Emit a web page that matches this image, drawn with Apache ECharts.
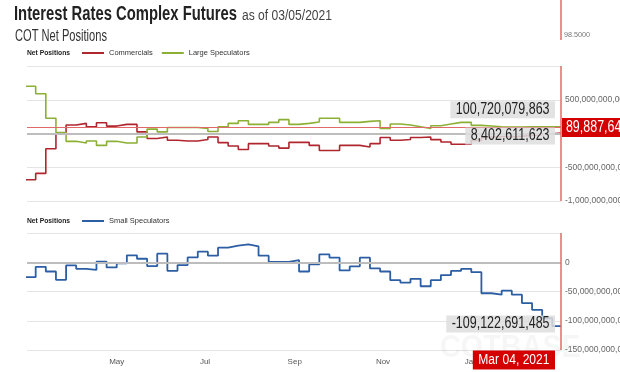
<!DOCTYPE html>
<html><head><meta charset="utf-8">
<script src="https://cdn.jsdelivr.net/npm/echarts@6/dist/echarts.min.js"></script>
<style>html,body{margin:0;padding:0;background:#fff}#c{width:620px;height:372px}</style>
</head><body><div id="c"></div>
<script>
// ---- data (values in billions) ----
const dates = ['2020-02-28','2020-03-06','2020-03-13','2020-03-20','2020-03-27','2020-04-03','2020-04-10','2020-04-17','2020-04-24','2020-05-01','2020-05-08','2020-05-15','2020-05-22','2020-05-29','2020-06-05','2020-06-12','2020-06-19','2020-06-26','2020-07-03','2020-07-10','2020-07-17','2020-07-24','2020-07-31','2020-08-07','2020-08-14','2020-08-21','2020-08-28','2020-09-04','2020-09-11','2020-09-18','2020-09-25','2020-10-02','2020-10-09','2020-10-16','2020-10-23','2020-10-30','2020-11-06','2020-11-13','2020-11-20','2020-11-27','2020-12-04','2020-12-11','2020-12-18','2020-12-25','2021-01-01','2021-01-08','2021-01-15','2021-01-22','2021-01-29','2021-02-05','2021-02-12','2021-02-19','2021-02-26','2021-03-04'];
const commercials = [-686,-591,-225,-5,125,150,100,160,110,135,135,24,-75,-51,-100,-111,-111,-90,-51,-135,-186,-236,-150,-150,-186,-216,-131,-131,-176,-251,-251,-176,-176,-201,-150,-60,-100,-90,-60,-51,-90,-126,-160,-160,-103,-57,-44,-46,-40,-30,-19,-4,8.402611623,8.402611623];
const largeSpeculators = [700,590,225,15,-116,-141,-111,-176,-116,-141,-141,-51,65,24,90,90,90,75,30,100,150,190,135,135,165,205,135,150,170,225,225,165,165,180,190,75,140,125,100,75,115,140,165,165,120,110,100,95,95,100,100,100,100.720079863,100.720079863];
const smallSpeculators = [-25.5,-7.8,-15.8,-30,-5.5,-11.2,-13,0.9,-8.9,-2,11.8,6,-6.6,14.7,-14.7,-4.9,8.3,18,11.2,25,28.4,30.7,27.3,11.2,0.8,0.8,3.8,-15.8,-3.8,13.5,7.8,-14,-7.2,7.8,-10.6,-15.8,-30.7,-34.8,-28.4,-41,-30.7,-22,-14.7,-11.2,-17,-53,-55.5,-48.6,-55.5,-69.8,-81.4,-95.7,-109.122691485,-109.122691485];
const monthTicks = ['2020-05-01','2020-07-01','2020-09-01','2020-11-01','2021-01-01'];
const monthLabels = ['May','Jul','Sep','Nov','Jan'];
const xStart = '2020-02-29';
const cursorValue = 89887641025;
const cursorDateLabel = 'Mar 04, 2021';
const priceLabel = '98.5000';

const B = 1e9;
const SANS = "'Liberation Sans',Arial,sans-serif";
const ts = s => { const [y,m,d] = s.split('-').map(Number); return Date.UTC(y, m-1, d); };
const fmt = v => Math.round(v).toLocaleString('en-US');
const mk = arr => dates.map((d,i) => [ts(d), Math.round(arr[i]*B)]);
const lastT = ts(dates[dates.length-1]);
const lastOf = arr => Math.round(arr[arr.length-1]*B);
const tickTs = monthTicks.map(ts);

const RED = '#b0262f', GREEN = '#8cb034', BLUE = '#2c5ea3', XRED = '#e06a6a';

const xBase = i => ({type: 'value', gridIndex: i, min: ts(xStart), max: lastT,
  axisLine: {show: false}, axisTick: {show: false}, splitLine: {show: false}, axisLabel: {show: false}});

const chart = echarts.init(document.getElementById('c'), null, {renderer: 'canvas'});
const option = {
  animation: false,
  legend: [
    {left: 82, top: 49, padding: 0, data: ['Commercials','Large Speculators'], icon: 'rect', itemWidth: 22, itemHeight: 2, itemGap: 9,
     textStyle: {fontFamily: SANS, fontSize: 7.5, color: '#333'}},
    {left: 82, top: 217, padding: 0, data: ['Small Speculators'], icon: 'rect', itemWidth: 22, itemHeight: 2,
     textStyle: {fontFamily: SANS, fontSize: 7.5, color: '#333'}}
  ],
  grid: [
    {left: 27, right: 59, top: 66, height: 135, outerBoundsMode: 'none'},
    {left: 27, right: 59, top: 233, height: 117, outerBoundsMode: 'none'}
  ],
  xAxis: [
    xBase(0),
    Object.assign(xBase(1), {axisLabel: {show: true, customValues: tickTs,
      formatter: v => { const i = tickTs.indexOf(v); return i >= 0 ? monthLabels[i] : ''; },
      color: '#555', fontFamily: SANS, fontSize: 8, margin: 8}})
  ],
  yAxis: [
    {type: 'value', gridIndex: 0, position: 'right', min: -1e12, max: 1e12, interval: 5e11,
     axisLine: {show: false}, axisTick: {show: false},
     axisLabel: {formatter: v => (v === 1e12 || v === 0) ? '' : fmt(v), color: '#666', fontFamily: SANS, fontSize: 8.5, margin: 4},
     splitLine: {lineStyle: {color: '#e4e4e4'}}},
    {type: 'value', gridIndex: 1, position: 'right', min: -1.5e11, max: 5e10, interval: 5e10,
     axisLine: {show: false}, axisTick: {show: false},
     axisLabel: {formatter: v => v === 5e10 ? '' : fmt(v), color: '#666', fontFamily: SANS, fontSize: 8.5, margin: 4},
     splitLine: {lineStyle: {color: '#e4e4e4'}}}
  ],
  series: [
    {name: 'Commercials', type: 'line', xAxisIndex: 0, yAxisIndex: 0, step: 'end', showSymbol: false,
     color: RED, lineStyle: {color: RED, width: 1.6}, data: mk(commercials), z: 3,
     markLine: {silent: true, symbol: 'none', data: [
       {yAxis: 0, lineStyle: {color: '#bdbdbd', width: 2, type: 'solid'}, label: {show: false}},
       {yAxis: cursorValue, lineStyle: {color: XRED, width: 1.2, type: 'solid'}, label: {show: false}},
       {xAxis: lastT, lineStyle: {color: XRED, width: 1.5, type: 'solid'}, label: {show: false}}
     ]}},
    {name: 'Large Speculators', type: 'line', xAxisIndex: 0, yAxisIndex: 0, step: 'end', showSymbol: false,
     color: GREEN, lineStyle: {color: GREEN, width: 1.6}, data: mk(largeSpeculators), z: 3},
    {name: 'Small Speculators', type: 'line', xAxisIndex: 1, yAxisIndex: 1, step: 'end', showSymbol: false,
     color: BLUE, lineStyle: {color: BLUE, width: 1.8}, data: mk(smallSpeculators), z: 3,
     markLine: {silent: true, symbol: 'none', data: [
       {yAxis: 0, lineStyle: {color: '#bdbdbd', width: 2, type: 'solid'}, label: {show: false}},
       {xAxis: lastT, lineStyle: {color: XRED, width: 1.5, type: 'solid'}, label: {show: false}}
     ]}}
  ]
};
chart.setOption(option);

// narrow (condensed) text helper: Liberation Sans squeezed horizontally
const ctx = document.createElement('canvas').getContext('2d');
const fitScale = (text, font, width) => { ctx.font = font; return width / ctx.measureText(text).width; };
const NS = 0.78;
const txt = (text, x, y, font, fill, opt) => ({type: 'text', x: x, y: y, scaleX: (opt && opt.sx) || NS, z: 100,
  style: Object.assign({text: text, font: font, fill: fill, verticalAlign: 'middle', align: 'left'}, (opt && opt.style) || {})});

const cx = chart.convertToPixel({xAxisIndex: 1}, lastT);
const yb = chart.convertToPixel({yAxisIndex: 1}, -1.5e11);
const yG = chart.convertToPixel({yAxisIndex: 0}, lastOf(largeSpeculators));
const yC = chart.convertToPixel({yAxisIndex: 0}, lastOf(commercials));
const yS = chart.convertToPixel({yAxisIndex: 1}, lastOf(smallSpeculators));
const yCur = chart.convertToPixel({yAxisIndex: 0}, cursorValue);

const titleMain = 'Interest Rates Complex Futures', titleSub = 'as of 03/05/2021', sub2 = 'COT Net Positions';
const fT = 'bold 20px ' + SANS, fS = '14px ' + SANS, fC = '16px ' + SANS;
const box = (bg) => ({backgroundColor: bg, padding: [1, 7, 0, 7], align: 'right'});
const lbl = '16px ' + SANS;

chart.setOption({graphic: [
  txt(titleMain, 14, 14.5, fT, '#222', {sx: fitScale(titleMain, fT, 223)}),
  txt(titleSub, 242, 16, fS, '#444', {sx: fitScale(titleSub, fS, 90)}),
  txt(sub2, 15, 37, fC, '#333', {sx: fitScale(sub2, fC, 92)}),
  txt('Net Positions', 27, 53, 'bold 8px ' + SANS, '#222', {sx: fitScale('Net Positions', 'bold 8px ' + SANS, 43)}),
  txt('Net Positions', 27, 221, 'bold 8px ' + SANS, '#222', {sx: fitScale('Net Positions', 'bold 8px ' + SANS, 43)}),
  {type: 'line', shape: {x1: cx, y1: 0, x2: cx, y2: 40}, style: {stroke: XRED, lineWidth: 1.5}},
  txt(priceLabel, cx + 3, 35, '8px ' + SANS, '#777', {sx: 0.9}),
  txt('COTBASE', 440, 348, 'bold 32px ' + SANS, 'rgba(0,0,0,0.035)', {sx: 0.9}),
  txt(fmt(lastOf(largeSpeculators)), cx - 6, yG - 17, lbl, '#222', {style: box('rgba(222,222,222,0.85)')}),
  txt(fmt(lastOf(commercials)), cx - 6, yC + 3, lbl, '#222', {style: box('rgba(222,222,222,0.85)')}),
  txt(fmt(lastOf(smallSpeculators)), cx - 6, yS - 2, lbl, '#222', {style: box('rgba(222,222,222,0.85)')}),
  txt(fmt(cursorValue), cx + 1, yCur, lbl, '#fff', {style: {backgroundColor: '#d40000', padding: [2, 5, 1, 5]}}),
  txt(cursorDateLabel, cx - 6, yb + 10, '15.5px ' + SANS, '#fff', {style: {backgroundColor: '#d40000', padding: [2, 7, 1, 7], align: 'right'}})
]});
</script></body></html>
